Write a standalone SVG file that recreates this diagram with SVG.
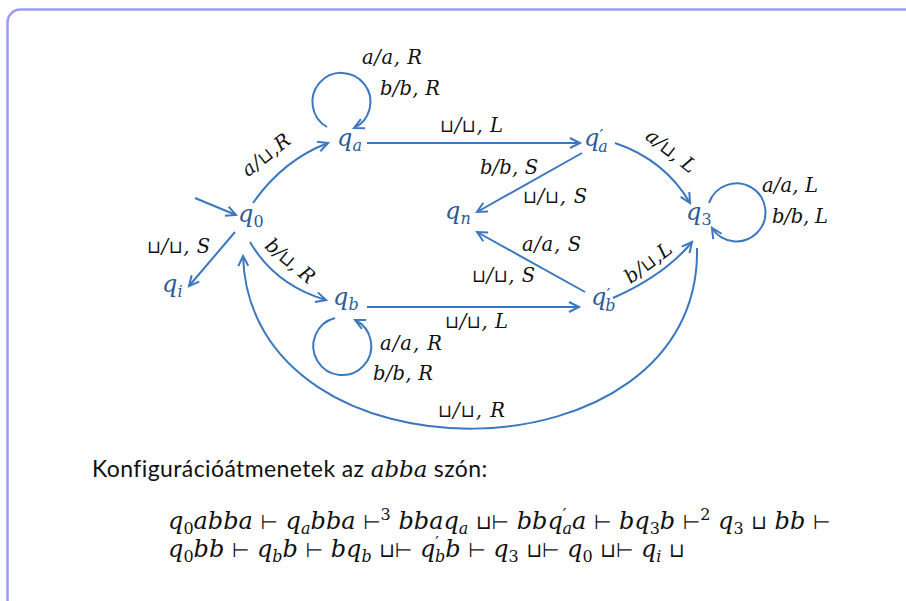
<svg xmlns="http://www.w3.org/2000/svg" width="906" height="601" viewBox="0 0 906 601">
<defs>
<marker id="arr" markerUnits="userSpaceOnUse" markerWidth="14" markerHeight="14" refX="11" refY="6" orient="auto">
<path d="M1,1 L11,6 L1,11" fill="none" stroke="#3b78bf" stroke-width="2"/>
</marker>
</defs>
<style>
.e{fill:none;stroke:#3b78bf;stroke-width:2;marker-end:url(#arr)}
.n{font-family:"DejaVu Serif",serif;font-style:italic;font-size:24px;fill:#2e5b95}
.ns{font-size:16px}
.pr{font-style:normal;font-size:17px}
.up{font-style:normal}
.l{font-family:"DejaVu Serif",serif;font-style:italic;font-size:19.5px;fill:#111}
.c{font-family:"DejaVu Sans",sans-serif;font-style:normal;font-size:18px}
.t{font-family:Lato,"Liberation Sans",sans-serif;font-size:23px;letter-spacing:0.4px;fill:#111}
.m{font-family:"DejaVu Serif",serif;font-style:italic;font-size:24px;fill:#111}
.ms{font-size:16px}
.o{font-family:"DejaVu Sans",sans-serif;font-style:normal;font-size:20px}
</style>
<rect x="7.5" y="9.5" width="1000" height="700" rx="13" fill="#fff" stroke="#9b9bf5" stroke-width="2.5"/>
<g id="connectors">
<path class="e" d="M195,198 L236,215"/>
<path class="e" d="M253,203 Q283,160 328,143"/>
<path class="e" d="M327,127 A29,29 0 1 1 354,128"/>
<path class="e" d="M235,232 L189,286"/>
<path class="e" d="M250,242 Q275,285 326,300"/>
<path class="e" d="M335,318 A29,29 0 1 0 355,320"/>
<path class="e" d="M367,143 L580,143"/>
<path class="e" d="M582,153 L477,212"/>
<path class="e" d="M615,143 Q665,160 690,203"/>
<path class="e" d="M709,203 A29,29 0 1 1 712,228"/>
<path class="e" d="M367,307 L579,307"/>
<path class="e" d="M585,292 L477,232"/>
<path class="e" d="M613,298 Q665,275 692,242"/>
<path class="e" d="M697,248 C702,485 250,490 243,256"/>
</g>
<g id="edge-labels">
<text class="l" x="362" y="64" textLength="60" lengthAdjust="spacing">a/a, R</text>
<text class="l" x="380" y="95" textLength="60" lengthAdjust="spacing">b/b, R</text>
<text class="l" transform="translate(270,160) rotate(-38)" text-anchor="middle" textLength="56" lengthAdjust="spacing">a/<tspan class="c">⊔</tspan>,R</text>
<text class="l" x="147" y="253" textLength="63" lengthAdjust="spacing"><tspan class="c">⊔</tspan>/<tspan class="c">⊔</tspan>, S</text>
<text class="l" transform="translate(286,266) rotate(40)" text-anchor="middle" textLength="58" lengthAdjust="spacing">b/<tspan class="c">⊔</tspan>, R</text>
<text class="l" x="380" y="350" textLength="62" lengthAdjust="spacing">a/a, R</text>
<text class="l" x="373" y="380" textLength="60" lengthAdjust="spacing">b/b, R</text>
<text class="l" x="440" y="132" textLength="63" lengthAdjust="spacing"><tspan class="c">⊔</tspan>/<tspan class="c">⊔</tspan>, L</text>
<text class="l" x="480" y="174" textLength="58" lengthAdjust="spacing">b/b, S</text>
<text class="l" x="523" y="203" textLength="64" lengthAdjust="spacing"><tspan class="c">⊔</tspan>/<tspan class="c">⊔</tspan>, S</text>
<text class="l" transform="translate(667,156) rotate(38)" text-anchor="middle" textLength="58" lengthAdjust="spacing">a/<tspan class="c">⊔</tspan>, L</text>
<text class="l" x="762" y="192" textLength="56" lengthAdjust="spacing">a/a, L</text>
<text class="l" x="772" y="223" textLength="56" lengthAdjust="spacing">b/b, L</text>
<text class="l" x="522" y="251" textLength="59" lengthAdjust="spacing">a/a, S</text>
<text class="l" x="472" y="282" textLength="63" lengthAdjust="spacing"><tspan class="c">⊔</tspan>/<tspan class="c">⊔</tspan>, S</text>
<text class="l" transform="translate(652,268) rotate(-37)" text-anchor="middle" textLength="54" lengthAdjust="spacing">b/<tspan class="c">⊔</tspan>,L</text>
<text class="l" x="445" y="328" textLength="63" lengthAdjust="spacing"><tspan class="c">⊔</tspan>/<tspan class="c">⊔</tspan>, L</text>
<text class="l" x="438" y="417" textLength="67" lengthAdjust="spacing"><tspan class="c">⊔</tspan>/<tspan class="c">⊔</tspan>, R</text>
</g>
<g id="q0"><text class="n" x="238" y="222">q<tspan class="ns up" dy="5">0</tspan></text></g>
<g id="qa"><text class="n" x="337" y="146">q<tspan class="ns" dy="5">a</tspan></text></g>
<g id="qa-prime"><text class="n" x="584" y="146">q<tspan class="pr" dy="-5">′</tspan><tspan class="ns" dx="-5" dy="11">a</tspan></text></g>
<g id="qn"><text class="n" x="445" y="219">q<tspan class="ns" dy="5">n</tspan></text></g>
<g id="q3"><text class="n" x="686" y="220">q<tspan class="ns up" dy="5">3</tspan></text></g>
<g id="qb"><text class="n" x="333" y="305">q<tspan class="ns" dy="5">b</tspan></text></g>
<g id="qb-prime"><text class="n" x="591" y="305">q<tspan class="pr" dy="-5">′</tspan><tspan class="ns" dx="-5" dy="11">b</tspan></text></g>
<g id="qi"><text class="n" x="162" y="292">q<tspan class="ns" dy="5">i</tspan></text></g>
<g id="caption">
<text class="t" x="92" y="477">Konfigurációátmenetek az <tspan style="font-family:'DejaVu Serif',serif;font-style:italic;font-size:23px;letter-spacing:0">abba</tspan> szón:</text>
<text class="m" x="168" y="529">q<tspan class="ms up" dy="5">0</tspan><tspan dy="-5">abba </tspan><tspan class="o">⊢</tspan> q<tspan class="ms" dy="5">a</tspan><tspan dy="-5">bba </tspan><tspan class="o">⊢</tspan><tspan class="ms up" dy="-9">3</tspan><tspan dy="9"> bbaq</tspan><tspan class="ms" dy="5">a</tspan><tspan dy="-5"> </tspan><tspan class="o">⊔⊢</tspan> bbq<tspan class="ms up" dy="-9">′</tspan><tspan class="ms" dx="-4" dy="14">a</tspan><tspan dy="-5">a </tspan><tspan class="o">⊢</tspan> bq<tspan class="ms up" dy="5">3</tspan><tspan dy="-5">b </tspan><tspan class="o">⊢</tspan><tspan class="ms up" dy="-9">2</tspan><tspan dy="9"> q</tspan><tspan class="ms up" dy="5">3</tspan><tspan dy="-5"> </tspan><tspan class="o">⊔</tspan> bb <tspan class="o">⊢</tspan></text>
<text class="m" x="168" y="557">q<tspan class="ms up" dy="5">0</tspan><tspan dy="-5">bb </tspan><tspan class="o">⊢</tspan> q<tspan class="ms" dy="5">b</tspan><tspan dy="-5">b </tspan><tspan class="o">⊢</tspan> bq<tspan class="ms" dy="5">b</tspan><tspan dy="-5"> </tspan><tspan class="o">⊔⊢</tspan> q<tspan class="ms up" dy="-9">′</tspan><tspan class="ms" dx="-4" dy="14">b</tspan><tspan dy="-5">b </tspan><tspan class="o">⊢</tspan> q<tspan class="ms up" dy="5">3</tspan><tspan dy="-5"> </tspan><tspan class="o">⊔⊢</tspan> q<tspan class="ms up" dy="5">0</tspan><tspan dy="-5"> </tspan><tspan class="o">⊔⊢</tspan> q<tspan class="ms" dy="5">i</tspan><tspan dy="-5"> </tspan><tspan class="o">⊔</tspan></text>
</g>
</svg>
